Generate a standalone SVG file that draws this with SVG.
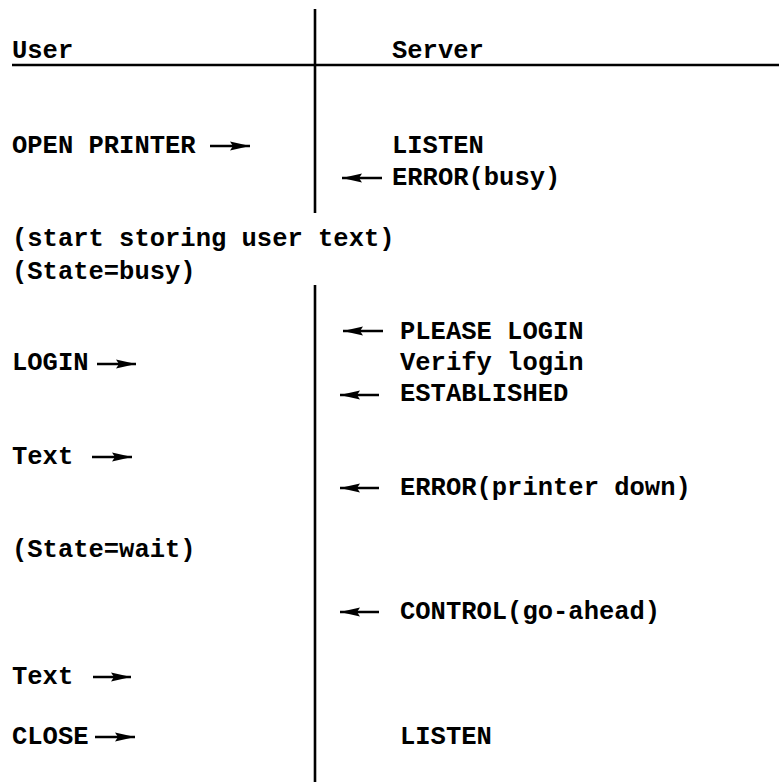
<svg xmlns="http://www.w3.org/2000/svg" width="779" height="782" viewBox="0 0 779 782">
<style>
text{font-family:"Liberation Mono","DejaVu Sans Mono",monospace;font-size:25.5px;font-weight:bold;fill:#000}
.rule{stroke:#000;stroke-width:2.6;fill:none}
.arr{stroke:#000;stroke-width:2.5;fill:none;marker-end:url(#ah)}
</style>
<defs>
<marker id="ah" markerUnits="userSpaceOnUse" markerWidth="22" markerHeight="10" refX="20" refY="5" orient="auto">
<path d="M0,0.5 L20,5 L0,9.5 L3,5 z" fill="#000"/>
</marker>
</defs>
<g id="frame">
<line class="rule" x1="12" y1="65" x2="779" y2="65" stroke-width="3"/>
<line class="rule" x1="315" y1="9" x2="315" y2="213"/>
<line class="rule" x1="315" y1="285" x2="315" y2="782"/>
</g>
<g id="hdr-user"><text x="12" y="58">User</text></g>
<g id="hdr-server"><text x="392" y="58">Server</text></g>
<g id="u-open"><text x="12" y="153">OPEN PRINTER</text></g>
<g id="s-listen1"><text x="392" y="153">LISTEN</text></g>
<g id="s-errbusy"><text x="392" y="185">ERROR(busy)</text></g>
<g id="u-storing"><text x="12" y="246">(start storing user text)</text></g>
<g id="u-busy"><text x="12" y="279">(State=busy)</text></g>
<g id="s-please"><text x="400" y="339">PLEASE LOGIN</text></g>
<g id="u-login"><text x="12" y="370">LOGIN</text></g>
<g id="s-verify"><text x="400" y="370">Verify login</text></g>
<g id="s-est"><text x="400" y="401">ESTABLISHED</text></g>
<g id="u-text1"><text x="12" y="464">Text</text></g>
<g id="s-errdown"><text x="400" y="495">ERROR(printer down)</text></g>
<g id="u-wait"><text x="12" y="557">(State=wait)</text></g>
<g id="s-control"><text x="400" y="619">CONTROL(go-ahead)</text></g>
<g id="u-text2"><text x="12" y="684">Text</text></g>
<g id="u-close"><text x="12" y="744">CLOSE</text></g>
<g id="s-listen2"><text x="400" y="744">LISTEN</text></g>
<g id="connectors">
<line class="arr" x1="210" y1="146" x2="250" y2="146"/>
<line class="arr" x1="382" y1="178" x2="342" y2="178"/>
<line class="arr" x1="383" y1="331" x2="343" y2="331"/>
<line class="arr" x1="97" y1="364" x2="136" y2="364"/>
<line class="arr" x1="379" y1="395" x2="340" y2="395"/>
<line class="arr" x1="92" y1="457" x2="132" y2="457"/>
<line class="arr" x1="379" y1="488" x2="340" y2="488"/>
<line class="arr" x1="379" y1="612" x2="340" y2="612"/>
<line class="arr" x1="93" y1="677" x2="131" y2="677"/>
<line class="arr" x1="95" y1="737" x2="135" y2="737"/>
</g>
</svg>
